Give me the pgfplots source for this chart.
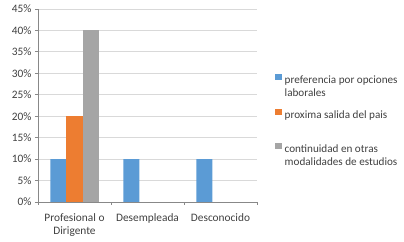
\documentclass[border=0pt]{standalone}
\usepackage{fontspec}
\setmainfont{Carlito}
\usepackage{pgfplots}
\pgfplotsset{compat=1.18}
\definecolor{cblue}{HTML}{5B9BD5}
\definecolor{corange}{HTML}{ED7D31}
\definecolor{cgray}{HTML}{A5A5A5}
\definecolor{gridc}{HTML}{D9D9D9}
\definecolor{axc}{HTML}{888888}
\definecolor{txt}{HTML}{404040}
\begin{document}
\begin{tikzpicture}
\begin{axis}[
  at={(38bp,40bp)}, anchor=south west,
  scale only axis, width=219bp, height=193bp,
  xmin=-0.5, xmax=2.5, ymin=0, ymax=45,
  ybar=0pt, bar width=16bp,
  axis x line*=bottom, axis y line*=left,
  axis line style={axc, line width=0.8bp},
  tick align=outside, major tick length=3bp,
  tick style={axc, line width=0.8bp},
  ymajorgrids, grid style={gridc, line width=0.8bp},
  ytick={0,5,...,45},
  yticklabels={0\%,5\%,10\%,15\%,20\%,25\%,30\%,35\%,40\%,45\%},
  xtick={-0.5,0.5,1.5,2.5}, xticklabels={},
  extra x ticks={0,1,2},
  extra x tick labels={Profesional o\\Dirigente, Desempleada, Desconocido},
  extra x tick style={major tick length=0pt, xticklabel style={align=center, yshift=-8bp}},
  ticklabel style={font=\fontsize{11.4}{13}\selectfont, text=txt},
  /pgf/number format/assume math mode=true,
  legend style={at={(1.08,0.666)}, anchor=north west, draw=none, inner sep=0pt,
    font=\fontsize{11.2}{13.5}\selectfont, text=txt, row sep=0pt,
    nodes={inner sep=0pt, text height=9.5bp, text depth=4bp}, column sep=2.5bp},
  legend cell align=left,
  legend image code/.code={\fill[#1, draw=none] (0bp,0.5bp) rectangle (7.5bp,6.5bp);},
]
\addplot[fill=cblue, draw=none, forget plot, bar shift=-16bp] coordinates {(0,10) (1,10) (2,10)};
\addplot[fill=corange, draw=none, forget plot, bar shift=0bp] coordinates {(0,20)};
\addplot[fill=cgray, draw=none, forget plot, bar shift=16bp] coordinates {(0,40)};
\addlegendimage{fill=cblue}
\addlegendentry{preferencia por opciones}
\addlegendimage{empty legend}
\addlegendentry{laborales}
\addlegendimage{empty legend}
\addlegendentry[text height=8bp, text depth=0bp]{}
\addlegendimage{fill=corange}
\addlegendentry{proxima salida del pais}
\addlegendimage{empty legend}
\addlegendentry[text height=20.5bp, text depth=0bp]{}
\addlegendimage{fill=cgray}
\addlegendentry{continuidad en otras}
\addlegendimage{empty legend}
\addlegendentry{modalidades de estudios}
\end{axis}
\pgfresetboundingbox
\path[use as bounding box] (0,0) rectangle (404bp,242bp);
\end{tikzpicture}
\end{document}
